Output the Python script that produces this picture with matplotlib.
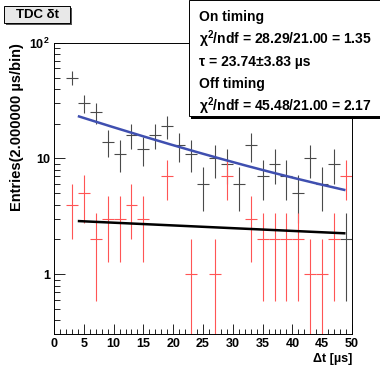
import numpy as np
import matplotlib
matplotlib.use("Agg")
import matplotlib.pyplot as plt
from matplotlib.patches import Rectangle
from matplotlib.ticker import FixedLocator, NullFormatter, LogLocator

# ---- data ----
bin_centers = [3, 5, 7, 9, 11, 13, 15, 17, 19, 21, 23, 25, 27, 29, 31, 33, 35, 37, 39, 41, 43, 45, 47, 49]
on_counts = [50, 30, 25, 14, 11, 16, 12, 16, 19, 13, 11, 6, 10, 9, 6, 13, 7, 9, 7, 5, 10, 6, 9, 2]
off_counts = [4, 5, 2, 3, 3, 4, 3, 0, 7, 0, 1, 0, 1, 7, 0, 3, 2, 2, 2, 2, 1, 1, 2, 7]
bin_half_width = 1.0

# fit parameters (on timing: exp decay + off-timing background)
tau_on = 23.74
amp_on = 24.1
amp_off = 2.946
tau_off = 183.6
fit_range = (4.2, 48.7)

x_ticks = [0, 5, 10, 15, 20, 25, 30, 35, 40, 45, 50]
y_major = [1, 10, 100]
y_major_labels = ["1", "10", "10$^{2}$"]

title_text = "TDC δt"
stats_lines = ["On timing",
               "χ$^{2}$/ndf = 28.29/21.00 = 1.35",
               "τ = 23.74±3.83 µs",
               "Off timing",
               "χ$^{2}$/ndf = 45.48/21.00 = 2.17"]
xlabel = "Δt [µs]"
ylabel = "Entries(2.000000 µs/bin)"

plt.rcParams['font.family'] = ['Liberation Sans', 'DejaVu Sans']
plt.rcParams['font.weight'] = 'bold'
plt.rcParams['mathtext.fontset'] = 'custom'
plt.rcParams['mathtext.rm'] = 'Liberation Sans:bold'
plt.rcParams['mathtext.it'] = 'Liberation Sans:bold'
plt.rcParams['mathtext.bf'] = 'Liberation Sans:bold'
plt.rcParams['mathtext.default'] = 'bf'

W, H = 380, 369
fig = plt.figure(figsize=(W / 100, H / 100), dpi=100)
L, R, T, B = 54, 352, 42.7, 334
ax = fig.add_axes([L / W, 1 - B / H, (R - L) / W, (B - T) / H])

def draw_hist(counts, color, lw):
    x = np.array(bin_centers, float)
    n = np.array(counts, float)
    m = n > 0
    x, n = x[m], n[m]
    err = np.sqrt(n)
    lo = n - np.maximum(n - err, 1e-3)
    ax.errorbar(x, n, xerr=bin_half_width, yerr=[lo, err], fmt='none',
                ecolor=color, elinewidth=lw, capsize=0, zorder=2)

draw_hist(on_counts, '#4a4a4a', 0.8)
draw_hist(off_counts, '#ff5555', 0.8)

t = np.linspace(fit_range[0], fit_range[1], 200)
off_fit = amp_off * np.exp(-t / tau_off)
on_fit = amp_on * np.exp(-t / tau_on) + off_fit
ax.plot(t, on_fit, color='#3f4fb0', lw=1.8, zorder=3)
ax.plot(t, off_fit, color='black', lw=1.8, zorder=3)

ax.set_yscale('log')
ax.set_xlim(0, 50)
ax.set_ylim(0.305, 100)
ax.set_xticks(x_ticks)
ax.set_xticklabels([str(v) for v in x_ticks])
ax.xaxis.set_minor_locator(FixedLocator(np.arange(0, 51, 1)))
ax.yaxis.set_major_locator(FixedLocator(y_major))
ax.set_yticklabels(y_major_labels)
ax.yaxis.set_minor_locator(LogLocator(base=10, subs=np.arange(2, 10)))
ax.yaxis.set_minor_formatter(NullFormatter())
ax.tick_params(axis='both', which='both', direction='in', top=False, right=False,
               labelsize=9, width=0.6)
ax.tick_params(axis='x', which='major', length=7, pad=3)
ax.tick_params(axis='x', which='minor', length=3.5)
ax.tick_params(axis='y', which='major', length=8, pad=3)
ax.tick_params(axis='y', which='minor', length=4)
for lab in ax.get_xticklabels() + ax.get_yticklabels():
    lab.set_fontweight('bold')
for s in ax.spines.values():
    s.set_linewidth(0.7)

ax.set_xlabel(xlabel, fontsize=9, fontweight='bold', loc='right', labelpad=2)
ax.set_ylabel(ylabel, fontsize=10.5, fontweight='bold', loc='top', labelpad=4)

# title box
def fig_rect(x0, y0, x1, y1, **kw):
    r = Rectangle((x0 / W, 1 - y1 / H), (x1 - x0) / W, (y1 - y0) / H,
                  transform=fig.transFigure, **kw)
    fig.add_artist(r)

fig_rect(6, 8, 72, 25, facecolor='#555555', edgecolor='none', zorder=5)
fig_rect(4, 6, 70, 23, facecolor='#e8e8e8', edgecolor='black', lw=0.7, zorder=6)
fig.text(37 / W, 1 - 14.5 / H, title_text, ha='center', va='center', fontsize=9.5,
         fontweight='bold', zorder=7)

# stats box
fig_rect(191, 3, 384, 118.5, facecolor='black', edgecolor='none', zorder=5)
fig_rect(189, 0.5, 382, 116, facecolor='white', edgecolor='black', lw=0.7, zorder=6)
ys = [16.5, 39.5, 62, 84, 106.5]
for txt, yy in zip(stats_lines, ys):
    fig.text(199 / W, 1 - yy / H, txt, ha='left', va='center', fontsize=10,
             fontweight='bold', zorder=7)

fig.savefig('out.png', dpi=100)
